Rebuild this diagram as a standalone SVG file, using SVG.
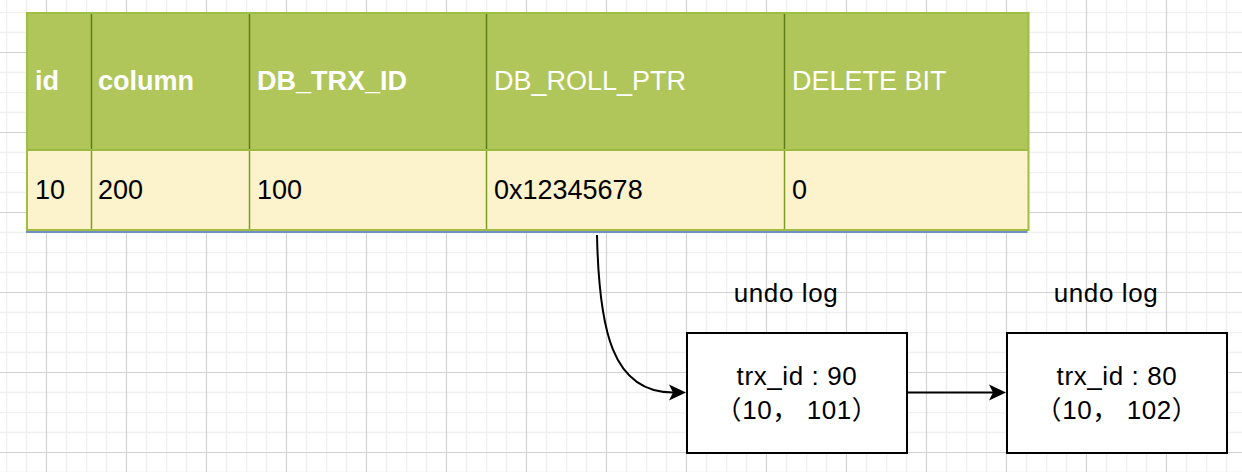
<svg xmlns="http://www.w3.org/2000/svg" width="1242" height="472" viewBox="0 0 1242 472">
  <style>
    .hdr { font-family: "Liberation Sans", Arial, Helvetica, sans-serif; font-size: 27px; fill: #ffffff; }
    .b { font-weight: bold; }
    .cell { font-family: "Liberation Sans", Arial, Helvetica, sans-serif; font-size: 27px; fill: #000000; }
    .lbl { font-family: "Liberation Sans", Arial, Helvetica, "Noto Sans CJK SC", sans-serif; font-size: 26px; fill: #000000; text-anchor: middle; letter-spacing: 0.6px; }
    .box { fill: #ffffff; stroke: #000000; stroke-width: 2; }
    .edge { fill: none; stroke: #000000; stroke-width: 2; }
    .hdiv { stroke: #5f7d16; stroke-width: 1.5; }
    .rdiv { stroke: #7d9c22; stroke-width: 1.5; }
  </style>
  <defs>
    <pattern id="grid" patternUnits="userSpaceOnUse" x="6" y="12" width="80" height="80">
      <path d="M0.5 0V80M20.5 0V80M60.5 0V80M0 0.5H80M0 20.5H80M0 60.5H80" stroke="#f0f0f0" stroke-width="1.6" fill="none"/>
      <path d="M40.5 0V80M0 40.5H80" stroke="#d2d2d2" stroke-width="1.2" fill="none"/>
    </pattern>
  </defs>
  <rect x="0" y="0" width="1242" height="472" fill="#ffffff"/>
  <rect x="0" y="0" width="1242" height="472" fill="url(#grid)"/>

  <g id="table">
    <rect x="27" y="13" width="1001.5" height="137" fill="#b0c65a"/>
    <rect x="27" y="150" width="1001.5" height="80" fill="#fcf2cc"/>
    <line x1="91.5" y1="14" x2="91.5" y2="150" class="hdiv"/>
    <line x1="249.5" y1="14" x2="249.5" y2="150" class="hdiv"/>
    <line x1="486.5" y1="14" x2="486.5" y2="150" class="hdiv"/>
    <line x1="784.5" y1="14" x2="784.5" y2="150" class="hdiv"/>
    <line x1="91.5" y1="150" x2="91.5" y2="230" class="rdiv"/>
    <line x1="249.5" y1="150" x2="249.5" y2="230" class="rdiv"/>
    <line x1="486.5" y1="150" x2="486.5" y2="230" class="rdiv"/>
    <line x1="784.5" y1="150" x2="784.5" y2="230" class="rdiv"/>
    <line x1="27" y1="150" x2="1028.5" y2="150" stroke="#9dbb40" stroke-width="2"/>
    <rect x="27" y="13" width="1001.5" height="217" fill="none" stroke="#9fbd42" stroke-width="2"/>
    <line x1="26" y1="232" x2="1027.5" y2="232" stroke="#6f8fc4" stroke-width="2"/>
    <text x="35" y="90" class="hdr b">id</text>
    <text x="98" y="90" class="hdr b">column</text>
    <text x="257" y="90" class="hdr b">DB_TRX_ID</text>
    <text x="494" y="90" class="hdr">DB_ROLL_PTR</text>
    <text x="792" y="90" class="hdr">DELETE BIT</text>
    <text x="35" y="199" class="cell">10</text>
    <text x="98" y="199" class="cell">200</text>
    <text x="257" y="199" class="cell">100</text>
    <text x="494" y="199" class="cell">0x12345678</text>
    <text x="792" y="199" class="cell">0</text>
  </g>

  <g id="label1">
    <text x="786" y="302" class="lbl">undo log</text>
  </g>
  <g id="label2">
    <text x="1106" y="302" class="lbl">undo log</text>
  </g>

  <g id="undo1">
    <rect x="687" y="333" width="220" height="120" class="box"/>
    <text x="797" y="385" class="lbl">trx_id : 90</text>
    <text x="797" y="419" class="lbl">（10， 101）</text>
  </g>
  <g id="undo2">
    <rect x="1007" y="333" width="220" height="120" class="box"/>
    <text x="1117" y="385" class="lbl">trx_id : 80</text>
    <text x="1117" y="419" class="lbl">（10， 102）</text>
  </g>

  <g id="connectors">
    <path d="M597 235 C599 330 612 392.5 673 392.5" class="edge"/>
    <path d="M686 392.5 L669 384.5 L673 392.5 L669 400.5 Z" fill="#000000"/>
    <path d="M908 392.5 L993 392.5" class="edge"/>
    <path d="M1006 392.5 L989 384.5 L993 392.5 L989 400.5 Z" fill="#000000"/>
  </g>
</svg>
